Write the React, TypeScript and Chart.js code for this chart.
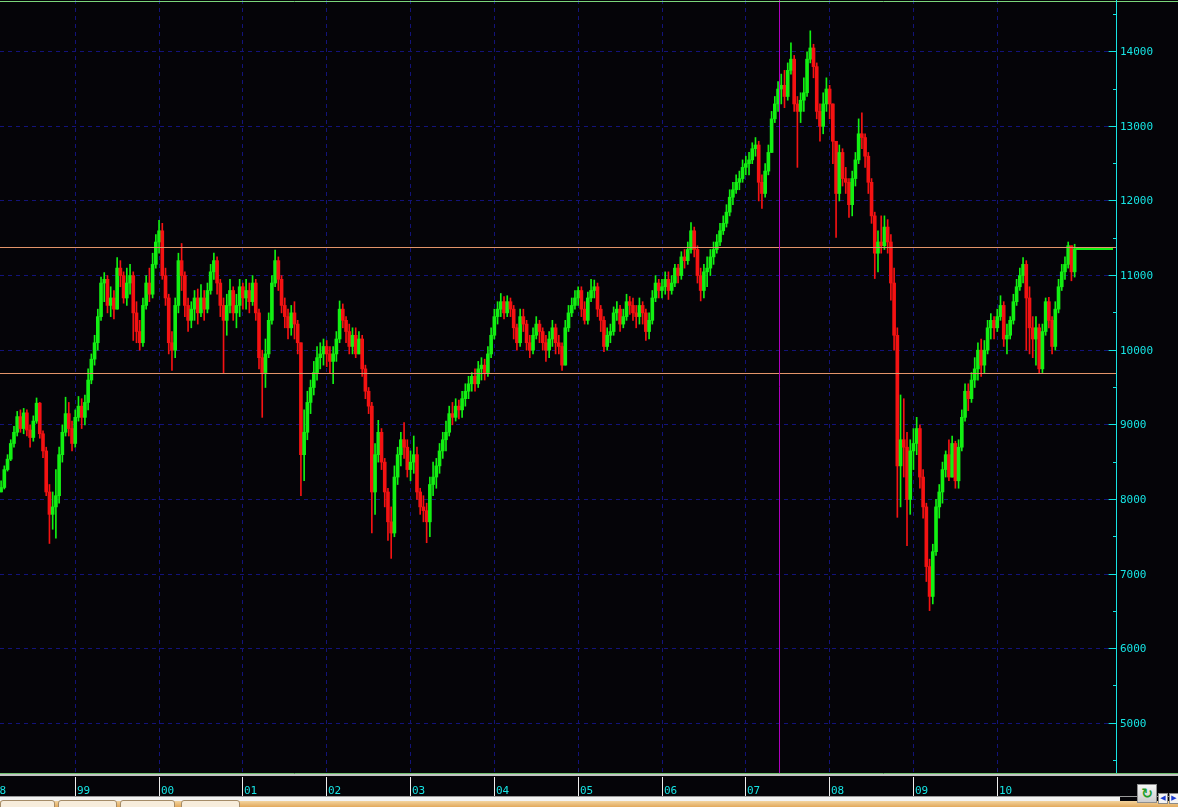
import React, { useEffect, useRef } from "react";
import { Chart, registerables } from "chart.js";

Chart.register(...registerables);

// ---- Price data: biweekly bars (close / high / low), open = previous close ----
const firstOpen = 8100;
const firstBarYear = 1998.115;
const barsPerYear = 26;

const close1998 = [8160, 8400, 8540, 8750, 8900, 9110, 8950, 9160, 8930, 8830, 9050, 9290, 8880, 8650, 8100, 7800, 7900, 8050, 8600, 8900, 9150, 8950, 8750, 9100];
const high1998 = [8250, 8450, 8600, 8800, 8980, 9180, 9200, 9220, 9200, 9000, 9120, 9360, 9300, 8920, 8700, 8200, 8100, 8400, 8700, 9000, 9370, 9300, 9050, 9200];
const low1998 = [8100, 8140, 8380, 8520, 8700, 8850, 8900, 8880, 8850, 8700, 8780, 9020, 8820, 8560, 8050, 7410, 7600, 7480, 7950, 8500, 8850, 8850, 8650, 8700];

const close1999 = [9250, 9100, 9300, 9600, 9880, 10100, 10450, 10900, 10950, 10600, 10700, 10550, 11100, 11000, 10700, 10900, 11000, 10500, 10250, 10100, 10600, 10900, 10750, 11150, 11450, 11600];
const high1999 = [9380, 9350, 9400, 9750, 9950, 10200, 10550, 10980, 11040, 11000, 10850, 10800, 11240, 11200, 11050, 11100, 11150, 11050, 10650, 10400, 10700, 11000, 11100, 11300, 11550, 11740];
const low1999 = [9050, 8950, 9000, 9200, 9550, 9800, 10000, 10400, 10650, 10500, 10450, 10420, 10550, 10850, 10630, 10600, 10750, 10130, 10100, 10000, 10050, 10550, 10650, 10700, 11100, 11300];

const close2000 = [11000, 10700, 10100, 10000, 10600, 11200, 11000, 10600, 10400, 10550, 10700, 10500, 10700, 10550, 10800, 11050, 11200, 10900, 10600, 10400, 10600, 10800, 10500, 10600, 10850, 10700];
const high2000 = [11700, 11100, 10750, 10250, 10700, 11300, 11430, 11050, 10700, 10650, 10800, 10820, 10880, 10800, 10900, 11150, 11300, 11250, 10950, 10700, 10750, 10950, 10850, 10750, 10950, 10900];
const low2000 = [10950, 10600, 9950, 9730, 9900, 10500, 10800, 10450, 10250, 10300, 10400, 10350, 10450, 10400, 10500, 10750, 10950, 10750, 10450, 9690, 10200, 10500, 10400, 10300, 10450, 10550];

const close2001 = [10800, 10650, 10900, 10500, 9900, 9700, 9950, 10400, 10900, 11200, 10950, 10600, 10450, 10300, 10500, 10350, 10100, 8600, 8900, 9300, 9500, 9700, 9900, 9950, 10050, 9950];
const high2001 = [10950, 10900, 11000, 10950, 10550, 10000, 10150, 10500, 11000, 11340, 11250, 11000, 10700, 10550, 10600, 10650, 10400, 10000, 9200, 9450, 9600, 9850, 10050, 10100, 10150, 10130];
const low2001 = [10550, 10500, 10600, 10400, 9750, 9100, 9500, 9900, 10350, 10850, 10800, 10500, 10300, 10150, 10200, 10150, 9950, 8050, 8250, 8800, 9150, 9400, 9600, 9750, 9800, 9780];

const close2002 = [9850, 9950, 10150, 10550, 10400, 10250, 10050, 10200, 9950, 10150, 9750, 9450, 9250, 8100, 8600, 8900, 8500, 8100, 7700, 7550, 8300, 8600, 8800, 8700, 8400, 8500];
const high2002 = [10050, 10050, 10250, 10660, 10620, 10450, 10350, 10300, 10300, 10250, 10200, 9800, 9500, 9300, 8750, 9060, 8950, 8550, 8150, 7900, 8450, 8700, 8900, 9030, 8800, 8650];
const low2002 = [9700, 9550, 9850, 10100, 10300, 10100, 9950, 9950, 9900, 9950, 9650, 9350, 9150, 7550, 7800, 8500, 8400, 7900, 7450, 7210, 7500, 8200, 8450, 8550, 8300, 8250];

const close2003 = [8600, 8100, 7900, 7850, 7700, 8200, 8300, 8450, 8650, 8800, 8900, 9150, 9100, 9250, 9200, 9350, 9450, 9550, 9650, 9550, 9750, 9800, 9700, 9950, 10200, 10450];
const high2003 = [8850, 8700, 8150, 8050, 7950, 8300, 8500, 8550, 8750, 8900, 9050, 9250, 9300, 9350, 9330, 9450, 9550, 9650, 9700, 9750, 9850, 9900, 9880, 10050, 10300, 10550];
const low2003 = [8350, 8000, 7800, 7700, 7420, 7500, 8050, 8150, 8350, 8550, 8650, 8850, 9000, 9050, 9080, 9100, 9250, 9350, 9450, 9450, 9500, 9600, 9600, 9650, 9900, 10150];

const close2004 = [10550, 10650, 10500, 10650, 10550, 10300, 10100, 10450, 10350, 10100, 10000, 10200, 10350, 10250, 10100, 10000, 10150, 10300, 10100, 10050, 9800, 10300, 10500, 10600, 10700, 10800];
const high2004 = [10650, 10760, 10720, 10730, 10700, 10600, 10350, 10550, 10550, 10400, 10200, 10300, 10450, 10400, 10300, 10200, 10250, 10400, 10350, 10200, 10100, 10400, 10600, 10700, 10800, 10850];
const low2004 = [10350, 10450, 10420, 10450, 10450, 10150, 10000, 10050, 10250, 10000, 9900, 9950, 10150, 10100, 10000, 9850, 9900, 10050, 9950, 9950, 9730, 9800, 10250, 10450, 10550, 10600];

const close2005 = [10550, 10400, 10700, 10800, 10850, 10550, 10400, 10050, 10200, 10250, 10500, 10550, 10350, 10450, 10650, 10600, 10500, 10450, 10600, 10500, 10250, 10400, 10700, 10900, 10800, 10850];
const high2005 = [10850, 10650, 10780, 10950, 10940, 10900, 10600, 10450, 10300, 10350, 10580, 10650, 10600, 10550, 10750, 10720, 10700, 10600, 10700, 10650, 10550, 10500, 10800, 11000, 10950, 10950];
const low2005 = [10450, 10350, 10350, 10650, 10700, 10450, 10250, 9980, 10000, 10100, 10200, 10400, 10250, 10300, 10400, 10480, 10400, 10300, 10350, 10350, 10130, 10150, 10350, 10650, 10700, 10700];

const close2006 = [10950, 10800, 10900, 11100, 11000, 11250, 11200, 11350, 11600, 11350, 11000, 10800, 11050, 11100, 11250, 11350, 11450, 11600, 11700, 11850, 12050, 12150, 12250, 12300, 12450, 12500];
const high2006 = [11050, 11050, 11000, 11150, 11150, 11320, 11350, 11450, 11710, 11650, 11400, 11100, 11150, 11250, 11350, 11450, 11550, 11700, 11800, 11950, 12150, 12250, 12350, 12400, 12550, 12600];
const low2006 = [10750, 10680, 10750, 10850, 10900, 10950, 11100, 11150, 11300, 11250, 10900, 10660, 10700, 10850, 11000, 11150, 11300, 11400, 11550, 11650, 11800, 11950, 12100, 12150, 12250, 12350];

const close2007 = [12550, 12700, 12750, 12250, 12100, 12400, 12650, 13100, 13300, 13500, 13550, 13400, 13750, 13900, 13300, 13200, 13350, 13450, 13900, 14050, 13800, 13200, 13000, 13300, 13500, 13300];
const high2007 = [12650, 12780, 12850, 12800, 12350, 12500, 12750, 13200, 13400, 13600, 13700, 13750, 13850, 14120, 13950, 13400, 13450, 13650, 14000, 14280, 14100, 13850, 13300, 13450, 13650, 13550];
const low2007 = [12350, 12500, 12600, 12000, 11900, 12050, 12350, 12650, 13050, 13200, 13300, 13250, 13350, 13700, 13200, 12450, 13050, 13200, 13400, 13850, 13650, 13100, 12800, 12900, 13200, 13100];

const close2008 = [12800, 12100, 12650, 12300, 12250, 11950, 12300, 12550, 12900, 12850, 12600, 12250, 11800, 11300, 11450, 11400, 11650, 11450, 10900, 10200, 8450, 8800, 8700, 8000, 8650, 8750];
const high2008 = [13300, 12800, 12750, 12700, 12450, 12300, 12400, 12650, 13100, 13180, 12900, 12650, 12300, 11850, 11600, 11800, 11800, 11750, 11550, 11100, 10300, 9400, 9350, 8900, 8800, 8950];
const low2008 = [12500, 11510, 12000, 12200, 12100, 11780, 11800, 12200, 12500, 12700, 12450, 12100, 11700, 10960, 11050, 11300, 11350, 11300, 10670, 10000, 7760, 7900, 8300, 7380, 7800, 8400];

const close2009 = [8950, 8300, 7900, 7100, 6700, 7300, 7900, 8100, 8400, 8600, 8300, 8750, 8250, 8700, 9100, 9450, 9350, 9600, 9750, 10000, 9800, 10000, 10300, 10400, 10300, 10450];
const high2009 = [9100, 9000, 8400, 7950, 7200, 7400, 8000, 8200, 8500, 8650, 8800, 8850, 8780, 8800, 9200, 9550, 9550, 9700, 9900, 10100, 10150, 10130, 10400, 10490, 10450, 10550];
const low2009 = [8600, 8150, 7750, 6900, 6510, 6600, 7250, 7750, 7950, 8300, 8250, 8300, 8150, 8150, 8650, 9050, 9190, 9300, 9500, 9600, 9650, 9700, 9950, 10150, 10150, 10250];

const close2010 = [10600, 10150, 10200, 10400, 10650, 10850, 11000, 11150, 10700, 10300, 10150, 10300, 9750, 10250, 10650, 10400, 10050, 10550, 10850, 11050, 11150, 11400, 11050, 11360];
const high2010 = [10730, 10650, 10350, 10450, 10750, 10950, 11100, 11240, 11200, 10850, 10450, 10450, 10350, 10350, 10700, 10710, 10450, 10650, 10950, 11150, 11250, 11450, 11400, 11420];
const low2010 = [10400, 10050, 9950, 10150, 10350, 10600, 10800, 10900, 10000, 9950, 9900, 9800, 9690, 9700, 10200, 10300, 9950, 10000, 10500, 10800, 10950, 11100, 10930, 10980];

// ---- Axis / annotation data ----
const yearTicks = [1998, 1999, 2000, 2001, 2002, 2003, 2004, 2005, 2006, 2007, 2008, 2009, 2010];
const yearLabels = ["98", "99", "00", "01", "02", "03", "04", "05", "06", "07", "08", "09", "10"];
const priceTicks = [5000, 6000, 7000, 8000, 9000, 10000, 11000, 12000, 13000, 14000];
const minorPriceTicks = [4500, 5500, 6500, 7500, 8500, 9500, 10500, 11500, 12500, 13500, 14500];
const levelLines = [11375, 9688];
const markerYear = 2007.407;
const xMin = 1998.102;
const xMax = 2011.416;
const yMin = 4334;
const yMax = 14693;

const BG = "#050408";
const UP = "#12f012";
const DOWN = "#f51212";
const GRID = "#13137a";
const CYAN = "#16e4e4";
const LEVEL = "#e3946a";
const MARKER = "#b000c0";
const FONT = "11px 'DejaVu Sans Mono', monospace";

const CLOSES = [...close1998, ...close1999, ...close2000, ...close2001, ...close2002, ...close2003, ...close2004, ...close2005, ...close2006, ...close2007, ...close2008, ...close2009, ...close2010];
const HIGHS = [...high1998, ...high1999, ...high2000, ...high2001, ...high2002, ...high2003, ...high2004, ...high2005, ...high2006, ...high2007, ...high2008, ...high2009, ...high2010];
const LOWS = [...low1998, ...low1999, ...low2000, ...low2001, ...low2002, ...low2003, ...low2004, ...low2005, ...low2006, ...low2007, ...low2008, ...low2009, ...low2010];

const decorPlugin = {
  id: "decor",
  beforeDraw(chart: any) {
    const { ctx, width, height } = chart;
    ctx.save();
    ctx.fillStyle = BG;
    ctx.fillRect(0, 0, width, height);
    ctx.restore();
  },
  beforeDatasetsDraw(chart: any) {
    const { ctx, chartArea: a, scales } = chart;
    const x = scales.x, y = scales.y;
    ctx.save();
    ctx.strokeStyle = GRID;
    ctx.lineWidth = 1;
    ctx.setLineDash([4, 4]);
    ctx.beginPath();
    for (const yr of yearTicks) {
      const px = Math.floor(x.getPixelForValue(yr)) + 0.5;
      if (px < a.left || px > a.right) continue;
      ctx.moveTo(px, a.top);
      ctx.lineTo(px, a.bottom);
    }
    for (const v of priceTicks) {
      const py = Math.floor(y.getPixelForValue(v)) + 0.5;
      ctx.moveTo(a.left, py);
      ctx.lineTo(a.right, py);
    }
    ctx.stroke();
    ctx.restore();
  },
  afterDatasetsDraw(chart: any) {
    const { ctx, chartArea: a, scales } = chart;
    const x = scales.x, y = scales.y;
    ctx.save();
    ctx.lineWidth = 1;
    ctx.strokeStyle = LEVEL;
    for (const v of levelLines) {
      const py = Math.floor(y.getPixelForValue(v)) + 0.5;
      ctx.beginPath();
      ctx.moveTo(a.left, py);
      ctx.lineTo(a.right, py);
      ctx.stroke();
    }
    ctx.strokeStyle = MARKER;
    const mx = Math.floor(x.getPixelForValue(markerYear)) + 0.5;
    ctx.beginPath();
    ctx.moveTo(mx, a.top);
    ctx.lineTo(mx, a.bottom);
    ctx.stroke();
    // last price line
    const last = CLOSES.length - 1;
    const lx = x.getPixelForValue(firstBarYear + last / barsPerYear) + 1;
    const ly = Math.floor(y.getPixelForValue(CLOSES[last])) + 1;
    ctx.fillStyle = UP;
    ctx.fillRect(lx, ly - 1, a.right - 3 - lx, 2);
    ctx.restore();
  },
  afterDraw(chart: any) {
    const { ctx, chartArea: a, scales, width } = chart;
    const x = scales.x, y = scales.y;
    ctx.save();
    ctx.lineWidth = 1;
    // top line
    ctx.strokeStyle = "#7ad67a";
    ctx.beginPath();
    ctx.moveTo(0, 1.5);
    ctx.lineTo(width, 1.5);
    ctx.stroke();
    // bottom border lines
    ctx.strokeStyle = "#6fbf6f";
    ctx.beginPath();
    ctx.moveTo(0, Math.floor(a.bottom) + 0.5);
    ctx.lineTo(width, Math.floor(a.bottom) + 0.5);
    ctx.stroke();
    ctx.fillStyle = "#c4c4c4";
    ctx.fillRect(0, Math.floor(a.bottom) + 1, width, 2);
    // y axis line
    const ax = Math.floor(a.right) + 0.5;
    ctx.strokeStyle = CYAN;
    ctx.beginPath();
    ctx.moveTo(ax, 0);
    ctx.lineTo(ax, a.bottom);
    ctx.stroke();
    ctx.beginPath();
    for (const v of priceTicks) {
      const py = Math.floor(y.getPixelForValue(v)) + 0.5;
      ctx.moveTo(ax - 8, py);
      ctx.lineTo(ax, py);
    }
    for (const v of minorPriceTicks) {
      const py = Math.floor(y.getPixelForValue(v)) + 0.5;
      if (py < a.top || py > a.bottom) continue;
      ctx.moveTo(ax - 3.5, py);
      ctx.lineTo(ax, py);
    }
    ctx.stroke();
    ctx.font = FONT;
    ctx.fillStyle = CYAN;
    ctx.textAlign = "left";
    ctx.textBaseline = "middle";
    for (const v of priceTicks) {
      const py = Math.floor(y.getPixelForValue(v)) + 0.5;
      ctx.fillText(String(v), a.right + 4, py + 0.5);
    }
    // x axis ticks and labels
    ctx.strokeStyle = "#eeeeee";
    ctx.textBaseline = "alphabetic";
    yearTicks.forEach((yr, i) => {
      const px = Math.floor(x.getPixelForValue(yr)) + 0.5;
      ctx.beginPath();
      ctx.moveTo(px, a.bottom + 4);
      ctx.lineTo(px, a.bottom + 23);
      ctx.stroke();
      ctx.fillText(yearLabels[i], px + 1.5, a.bottom + 20.5);
    });
    ctx.restore();
  },
};

export default function App() {
  const ref = useRef<HTMLCanvasElement | null>(null);

  useEffect(() => {
    if (!ref.current) return;
    const opens = CLOSES.map((c, i) => (i === 0 ? firstOpen : CLOSES[i - 1]));
    const times = CLOSES.map((_, i) => firstBarYear + i / barsPerYear);
    const colors = CLOSES.map((c, i) => (c >= opens[i] ? UP : DOWN));
    const bodies = times.map((t, i) => ({ x: t, y: [opens[i], CLOSES[i]] }));
    const wicks = times.map((t, i) => ({
      x: t,
      y: [Math.min(LOWS[i], opens[i], CLOSES[i]), Math.max(HIGHS[i], opens[i], CLOSES[i])],
    }));
    const chart = new Chart(ref.current, {
      type: "bar",
      data: {
        datasets: [
          {
            data: bodies as any,
            backgroundColor: colors,
            borderWidth: 0,
            barThickness: 3,
            minBarLength: 1,
            grouped: false,
            order: 0,
          } as any,
          {
            data: wicks as any,
            backgroundColor: colors,
            borderWidth: 0,
            barThickness: 1,
            grouped: false,
            order: 1,
          } as any,
        ],
      },
      options: {
        animation: false,
        responsive: false,
        events: [],
        layout: { padding: { left: 0, top: 0, right: 62, bottom: 34 } },
        plugins: { legend: { display: false }, tooltip: { enabled: false } },
        scales: {
          x: { type: "linear", min: xMin, max: xMax, display: false, offset: false },
          y: { type: "linear", min: yMin, max: yMax, display: false },
        },
      } as any,
      plugins: [decorPlugin],
    });
    return () => chart.destroy();
  }, []);

  const tab = (left: number, w: number) => (
    <div
      style={{
        position: "absolute",
        left,
        top: 800,
        width: w,
        height: 9,
        background: "#f7eddc",
        border: "1px solid #a58c68",
        borderRadius: "3px 3px 0 0",
        boxSizing: "border-box",
      }}
    />
  );

  return (
    <div style={{ position: "fixed", left: 0, top: 0, width: 1178, height: 807, background: BG, overflow: "hidden" }}>
      <canvas ref={ref} width={1178} height={807} style={{ display: "block" }} />
      <div style={{ position: "absolute", left: 0, top: 796, width: 1178, height: 1, background: "#9a9a9a" }} />
      <div style={{ position: "absolute", left: 0, top: 797, width: 1120, height: 4, background: "#f2f2f2" }} />
      <div style={{ position: "absolute", left: 0, top: 801, width: 1178, height: 6, background: "linear-gradient(#f3d49e, #e2a95c)" }} />
      {tab(0, 55)}
      {tab(58, 59)}
      {tab(120, 55)}
      {tab(181, 59)}
      <div
        style={{
          position: "absolute",
          left: 1137,
          top: 784,
          width: 20,
          height: 19,
          background: "linear-gradient(#f6f6f6, #cdcdcd)",
          border: "1px solid #8f8f8f",
          boxSizing: "border-box",
          color: "#1f9f2a",
          fontFamily: "'DejaVu Sans', sans-serif",
          fontWeight: "bold",
          fontSize: 14,
          lineHeight: "17px",
          textAlign: "center",
        }}
      >
        ↻
      </div>
      <div style={{ position: "absolute", left: 1158, top: 793, width: 10, height: 11, background: "#f4f4f4", border: "1px solid #8a8a8a", boxSizing: "border-box", color: "#1a3ad0", fontFamily: "'DejaVu Sans', sans-serif", fontSize: 7, lineHeight: "9px", textAlign: "center" }}>◀</div>
      <div style={{ position: "absolute", left: 1169, top: 793, width: 10, height: 11, background: "#f4f4f4", border: "1px solid #8a8a8a", boxSizing: "border-box", color: "#1a3ad0", fontFamily: "'DejaVu Sans', sans-serif", fontSize: 7, lineHeight: "9px", textAlign: "center" }}>▶</div>
    </div>
  );
}
